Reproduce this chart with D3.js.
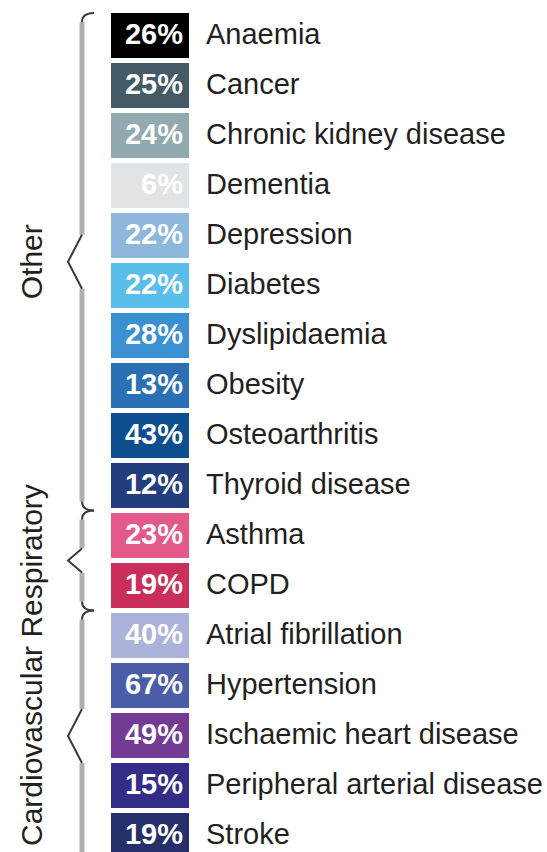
<!DOCTYPE html>
<meta charset="utf-8">
<style>
body {margin: 0; background: white;}
.label {font-family: "Liberation Sans", Arial, sans-serif; font-size: 29px; fill: #231f20;}
.side {font-family: "Liberation Sans", Arial, sans-serif; font-size: 30px; fill: #231f20;}
.pct {font-family: "Liberation Sans", Arial, sans-serif; font-size: 29px; font-weight: bold; fill: white;}
.brace {fill: none; stroke: #b0b0b0; stroke-width: 5px;}
.tip {fill: none; stroke: #3a3a3a; stroke-width: 2px;}
</style>
<body>
<script src="https://d3js.org/d3.v7.min.js"></script>
<script>
var width = 547, height = 852

var categories = ["Anaemia", "Cancer", "Chronic kidney disease", "Dementia", "Depression",
  "Diabetes", "Dyslipidaemia", "Obesity", "Osteoarthritis", "Thyroid disease",
  "Asthma", "COPD", "Atrial fibrillation", "Hypertension", "Ischaemic heart disease",
  "Peripheral arterial disease", "Stroke"]
var values = [26, 25, 24, 6, 22, 22, 28, 13, 43, 12, 23, 19, 40, 67, 49, 15, 19]
var colours = ["#000000", "#425b67", "#93a9b0", "#e0e4e6", "#8db8dc", "#5bbde9", "#3a90d0",
  "#2b6fb5", "#0c4e8e", "#233e7d", "#e2598a", "#c92f5a", "#abb3da", "#4a5ea8",
  "#733b94", "#342d88", "#25306a"]
var groupNames = ["Other", "Respiratory", "Cardiovascular"]
var groupFirst = ["Anaemia", "Asthma", "Atrial fibrillation"]
var groupLast = ["Thyroid disease", "COPD", "Stroke"]

var y = d3.scaleBand().domain(categories)
  .range([10.5, 860.5]).paddingInner(0.1).paddingOuter(0.05)
var boxX = 111, boxW = 78, braceX = 82

var svg = d3.select("body").append("svg")
  .attr("width", width).attr("height", height)

var rows = svg.selectAll(".row")
  .data(categories).enter().append("g")
  .attr("class", "row")
  .attr("transform", function(d) { return "translate(0," + y(d) + ")" })
rows.append("rect")
  .attr("x", boxX).attr("width", boxW)
  .attr("height", y.bandwidth())
  .attr("fill", function(d, i) { return colours[i] })
rows.append("text")
  .attr("class", "pct")
  .attr("x", boxX + boxW - 6).attr("y", 20.5)
  .attr("dy", "0.36em").attr("text-anchor", "end")
  .text(function(d, i) { return values[i] + "%" })
rows.append("text")
  .attr("class", "label")
  .attr("x", 206).attr("y", 20.5)
  .attr("dy", "0.36em")
  .text(function(d) { return d })

// braces
var groups = groupNames.map(function(n, i) {
  var top = i == 0 ? y(groupFirst[i]) : y(groupFirst[i]) - y.step() * 0.05
  var last = groupLast[i]
  var bot = i == groupNames.length - 1 ? height + 10 : y(last) + y.bandwidth() + y.step() * 0.05
  return {name: n, top: top, bot: bot, mid: (top + bot) / 2, half: (bot - top) > 200 ? 27 : 12}
})
groups[2].mid = 736
groups.forEach(function(g, i) {
  var t = g.top + 9, b = g.bot - 9
  svg.append("path").attr("class", "brace")
    .attr("d", "M" + braceX + "," + t + "V" + (g.mid - g.half) + "M" + braceX + "," + (g.mid + g.half) + "V" + b)
  svg.append("path").attr("class", "tip")
    .attr("d", "M" + braceX + "," + (g.mid - g.half) + "L" + (braceX - 14) + "," + g.mid + "L" + braceX + "," + (g.mid + g.half))
  svg.append("path").attr("class", "tip")
    .attr("d", "M" + braceX + "," + t + "Q" + braceX + "," + g.top + " " + (braceX + 12) + "," + g.top)
  if (i < groups.length - 1)
    svg.append("path").attr("class", "tip")
      .attr("d", "M" + braceX + "," + b + "Q" + braceX + "," + g.bot + " " + (braceX + 12) + "," + g.bot)
})

svg.append("text").attr("class", "side")
  .attr("transform", "translate(42," + groups[0].mid + ") rotate(-90)")
  .attr("text-anchor", "middle").text(groupNames[0])
svg.append("text").attr("class", "side")
  .attr("transform", "translate(42,846) rotate(-90)")
  .attr("text-anchor", "start").text(groupNames[2] + " " + groupNames[1])
</script>
</body>
